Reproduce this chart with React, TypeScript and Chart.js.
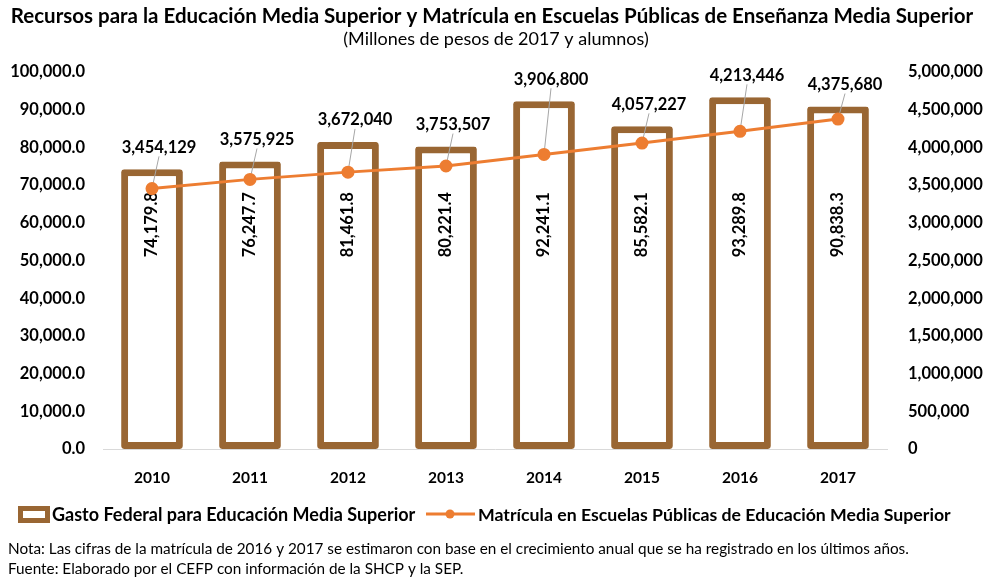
import React, { useEffect, useRef } from "react";
import { Chart, registerables } from "chart.js";

Chart.register(...registerables);

const years = ["2010", "2011", "2012", "2013", "2014", "2015", "2016", "2017"];
const gasto = [74179.8, 76247.7, 81461.8, 80221.4, 92241.1, 85582.1, 93289.8, 90838.3];
const matricula = [3454129, 3575925, 3672040, 3753507, 3906800, 4057227, 4213446, 4375680];

const titleText = "Recursos para la Educación Media Superior y Matrícula en Escuelas Públicas de Enseñanza Media Superior";
const subtitleText = "(Millones de pesos de 2017 y alumnos)";
const barLegend = "Gasto Federal para Educación Media Superior";
const lineLegend = "Matrícula en Escuelas Públicas de Educación Media Superior";
const notes = [
  "Nota: Las cifras de la matrícula de 2016 y 2017 se estimaron con base en el crecimiento anual que se ha registrado en los últimos años.",
  "Fuente: Elaborado por el CEFP con información de la SHCP y la SEP.",
];

const FONT = "Lato, 'DejaVu Sans', sans-serif";
const BROWN = "#996633";
const ORANGE = "#ED7D31";
const BAR_LABEL_ANCHOR = 59500;

const fmt1 = (v: number) =>
  v.toLocaleString("en-US", { minimumFractionDigits: 1, maximumFractionDigits: 1 });
const fmt0 = (v: number) => Math.round(v).toLocaleString("en-US");

const decoPlugin = {
  id: "deco",
  afterDatasetDraw(chart: any, args: any) {
    if (args.index !== 0) return;
    const ctx = chart.ctx;
    const bars = chart.getDatasetMeta(0).data;
    const pts = chart.getDatasetMeta(1).data;
    const ys = chart.scales.y;
    ctx.save();
    ctx.fillStyle = "#000";
    ctx.font = `bold 16.5px ${FONT}`;
    ctx.textAlign = "center";
    ctx.textBaseline = "middle";
    bars.forEach((b: any, i: number) => {
      ctx.save();
      ctx.translate(b.x, ys.getPixelForValue(BAR_LABEL_ANCHOR));
      ctx.rotate(-Math.PI / 2);
      ctx.fillText(fmt1(gasto[i]), 0, 0);
      ctx.restore();
    });
    ctx.strokeStyle = "#A6A6A6";
    ctx.lineWidth = 1;
    pts.forEach((p: any, i: number) => {
      const top = bars[i].y;
      const lx = p.x + 7;
      const ly = top - 22;
      ctx.beginPath();
      ctx.moveTo(p.x, p.y);
      ctx.lineTo(lx, ly + 9);
      ctx.stroke();
    });
    ctx.restore();
  },
  afterDraw(chart: any) {
    const ctx = chart.ctx;
    const bars = chart.getDatasetMeta(0).data;
    const pts = chart.getDatasetMeta(1).data;
    ctx.save();
    ctx.fillStyle = "#000";
    ctx.textBaseline = "middle";
    ctx.font = `bold 16.5px ${FONT}`;
    ctx.textAlign = "center";
    pts.forEach((p: any, i: number) => {
      const top = bars[i].y;
      ctx.fillText(fmt0(matricula[i]), p.x + 7, top - 22);
    });
    ctx.font = `bold 20.5px ${FONT}`;
    ctx.fillText(titleText, 492, 16);
    ctx.font = `18px ${FONT}`;
    ctx.fillText(subtitleText, 496, 39);
    // legend
    ctx.fillStyle = BROWN;
    ctx.fillRect(18, 506, 32, 17);
    ctx.fillStyle = "#fff";
    ctx.fillRect(23, 511, 22, 7);
    ctx.fillStyle = "#000";
    ctx.textAlign = "left";
    ctx.font = `bold 18px ${FONT}`;
    ctx.fillText(barLegend, 52, 515);
    ctx.strokeStyle = ORANGE;
    ctx.lineWidth = 3;
    ctx.beginPath();
    ctx.moveTo(426, 514);
    ctx.lineTo(475, 514);
    ctx.stroke();
    ctx.fillStyle = ORANGE;
    ctx.beginPath();
    ctx.arc(450, 514, 4.5, 0, Math.PI * 2);
    ctx.fill();
    ctx.fillStyle = "#000";
    ctx.font = `bold 17.7px ${FONT}`;
    ctx.fillText(lineLegend, 478, 515);
    ctx.font = `15.3px ${FONT}`;
    ctx.fillText(notes[0], 8, 549);
    ctx.fillText(notes[1], 8, 569);
    ctx.restore();
  },
};

export default function App() {
  const ref = useRef<HTMLCanvasElement>(null);
  useEffect(() => {
    if (!ref.current) return;
    const chart = new Chart(ref.current, {
      type: "bar",
      data: {
        labels: years,
        datasets: [
          {
            type: "bar",
            label: barLegend,
            data: gasto,
            backgroundColor: "#ffffff",
            borderColor: BROWN,
            borderWidth: 7,
            borderSkipped: false,
            borderRadius: 3,
            categoryPercentage: 1,
            barPercentage: 0.63,
            yAxisID: "y",
            order: 1,
          } as any,
          {
            type: "line",
            label: lineLegend,
            data: matricula,
            borderColor: ORANGE,
            backgroundColor: ORANGE,
            borderWidth: 3,
            pointRadius: 5,
            pointBackgroundColor: ORANGE,
            pointBorderColor: ORANGE,
            yAxisID: "y2",
            order: 0,
          } as any,
        ],
      },
      options: {
        responsive: false,
        animation: false,
        layout: { padding: { top: 72, bottom: 90, left: 0, right: 0 } },
        plugins: { legend: { display: false }, tooltip: { enabled: false }, title: { display: false } },
        scales: {
          x: {
            grid: { display: false },
            border: { display: true, color: "#D9D9D9", width: 1 },
            ticks: { color: "#000", font: { family: FONT, size: 15.5, weight: "bold" }, padding: 12 },
            afterFit: (s: any) => { s.height = 40; },
          },
          y: {
            position: "left",
            min: 0,
            max: 100000,
            grid: { display: false, drawTicks: false },
            border: { display: false },
            ticks: {
              stepSize: 10000,
              color: "#000",
              padding: 18,
              font: { family: FONT, size: 16.5, weight: "bold" },
              callback: (v: any) => fmt1(Number(v)),
            },
            afterFit: (s: any) => { s.width = 103; },
          },
          y2: {
            position: "right",
            min: 0,
            max: 5000000,
            grid: { display: false, drawTicks: false },
            border: { display: false },
            ticks: {
              stepSize: 500000,
              color: "#000",
              padding: 21,
              font: { family: FONT, size: 16.5, weight: "bold" },
              callback: (v: any) => fmt0(Number(v)),
            },
            afterFit: (s: any) => { s.width = 100; },
          },
        },
      },
      plugins: [decoPlugin],
    });
    return () => chart.destroy();
  }, []);
  return (
    <div style={{ position: "absolute", left: 0, top: 0, width: 987, height: 579, background: "#fff" }}>
      <canvas ref={ref} width={987} height={579} style={{ display: "block" }} />
    </div>
  );
}
